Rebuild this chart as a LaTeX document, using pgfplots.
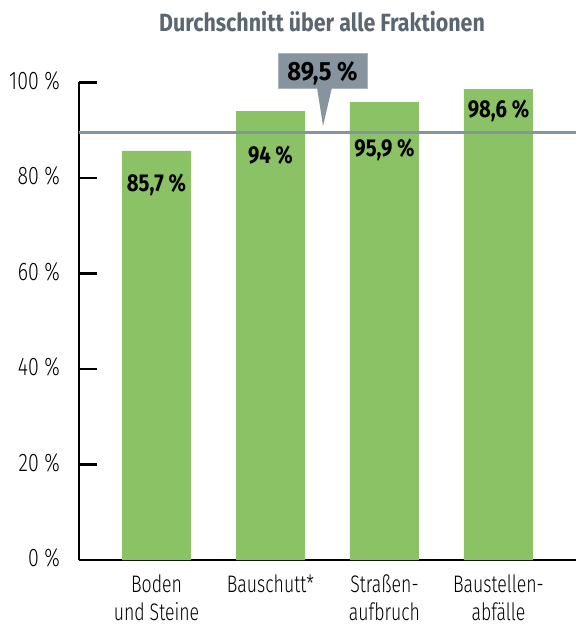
\documentclass[border=0pt]{standalone}
\usepackage{fontspec}
\usepackage{pgfplots}
\pgfplotsset{compat=1.18}
\IfFontExistsTF{Fira Sans Light}{%
  \newfontfamily\lightf{Fira Sans Light}[FakeStretch=0.77]%
  \newfontfamily\lightx{Fira Sans Light}[FakeStretch=0.74]}{%
  \newfontfamily\lightf{Fira Sans}[FakeStretch=0.77]%
  \newfontfamily\lightx{Fira Sans}[FakeStretch=0.74]}
\newfontfamily\boldf{Fira Sans}[FakeStretch=0.83]
\newfontfamily\boldc{Fira Sans}[FakeStretch=0.9]
\newfontfamily\boldt{Fira Sans}[FakeStretch=0.86]
\definecolor{bargreen}{HTML}{8CC266}
\definecolor{avggray}{HTML}{8694A0}
\definecolor{titlegray}{HTML}{5B6670}
\begin{document}
\begin{tikzpicture}
\begin{axis}[
  at={(0,0)}, anchor=south west,
  scale only axis, width=497bp, height=477.5bp,
  xmin=-0.68, xmax=3.68, ymin=0, ymax=100,
  axis lines*=left,
  axis line style={line width=2.8bp, black},
  clip=false,
  xtick={0,1,2,3},
  xticklabels={Boden\\und Steine, Bauschutt*, Straßen-\\aufbruch, Baustellen-\\abfälle},
  xtick style={draw=none},
  xticklabel style={align=center, anchor=north, inner sep=0pt, yshift=-15bp, font=\lightx\fontsize{24}{28}\selectfont},
  ytick={0,20,40,60,80,100},
  yticklabels={0 \%, 20 \%, 40 \%, 60 \%, 80 \%, 100 \%},
  yticklabel style={anchor=east, inner sep=0pt, xshift=-19bp, yshift=2bp, font=\lightf\fontsize{25.5}{28}\selectfont},
  ytick align=inside,
  major tick length=18bp,
  ytick style={line width=2.6bp, black},
]
\addplot[ybar, bar width=69bp, fill=bargreen, draw=none] coordinates {(0,85.7) (1,94) (2,95.9) (3,98.6)};
\addplot[avggray, line width=3.6bp, forget plot] coordinates {(-0.68,89.5) (3.68,89.5)};
\addplot[only marks, mark=none, nodes near coords, point meta=explicit symbolic,
  nodes near coords style={anchor=base, inner sep=0pt, font=\boldf\bfseries\fontsize{24.5}{27}\selectfont, text=black}]
  table[x=x, y=y, meta=lab] {
x y lab
0 77.1 {85,7 \%}
1 83.1 {94 \%}
2 84.4 {95,9 \%}
3 92.6 {98,6 \%}
};
% callout for the average
\fill[avggray, draw=avggray!70!white, line width=0.6bp] (axis cs:1.070,98.85) rectangle (axis cs:1.851,106.2);
\fill[avggray] (axis cs:1.408,98.95) -- (axis cs:1.539,98.95) -- (axis cs:1.461,90.9) -- cycle;
\node[anchor=base, inner sep=0pt, font=\boldc\bfseries\fontsize{26.5}{30}\selectfont, text=black] at (axis cs:1.456,100.5) {89,5 \%};
\end{axis}
\node[anchor=base, inner sep=0pt, font=\boldt\bfseries\fontsize{25}{28}\selectfont, text=titlegray] at (243bp,528bp) {Durchschnitt über alle Fraktionen};
\pgfresetboundingbox
\path (-79bp,-65bp) rectangle (497bp,560bp);
\end{tikzpicture}
\end{document}
